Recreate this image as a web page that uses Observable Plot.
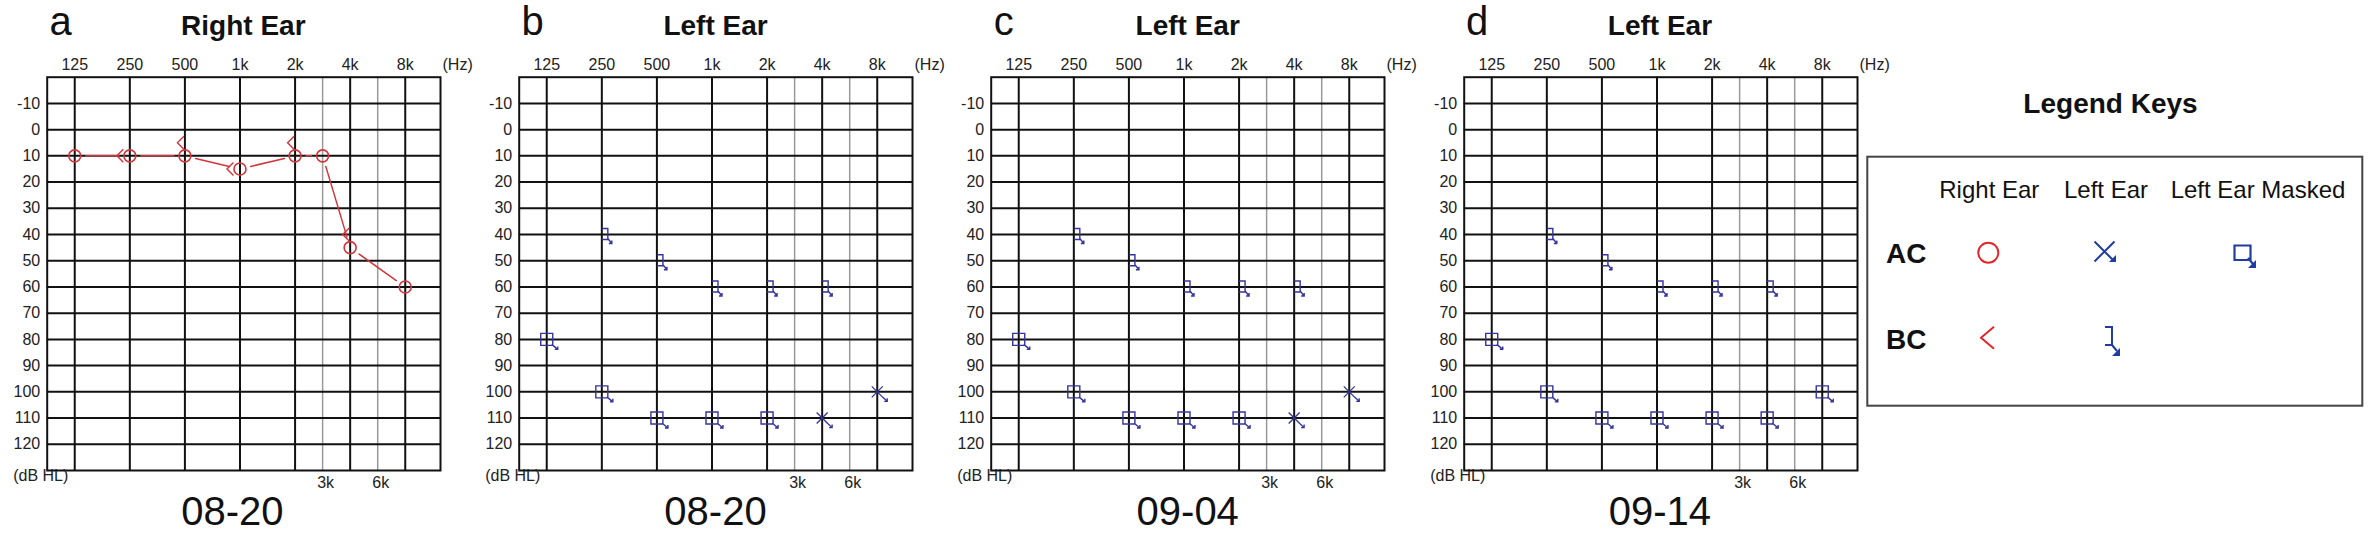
<!DOCTYPE html>
<html><head><meta charset="utf-8">
<script src="https://cdn.jsdelivr.net/npm/d3@7"></script>
<script src="https://cdn.jsdelivr.net/npm/@observablehq/plot@0.6"></script>
<style>
body{margin:0;background:#fff;font-family:"Liberation Sans",Arial,sans-serif;color:#111;}
#root{position:relative;width:2370px;height:534px;overflow:hidden;background:#fff;}
.panel{position:absolute;top:0;width:472px;height:534px;}
.letter{position:absolute;left:49.4px;top:1.1px;font-size:40px;line-height:40px;white-space:nowrap;}
.title{position:absolute;left:46.7px;width:393.3px;top:12.3px;font-size:28px;line-height:28px;font-weight:bold;text-align:center;white-space:nowrap;}
.date{position:absolute;left:46.7px;width:393.3px;top:491.1px;font-size:40px;line-height:40px;text-align:center;white-space:nowrap;}
.plot{position:absolute;left:0;top:48px;}
svg{overflow:visible;}
</style></head><body><div id="root"></div>
<script>
// ---------- axis definitions ----------
const freqLabels = ["125","250","500","1k","2k","4k","8k"];
const interOctaveLabels = ["3k","6k"];
const dbTicks = [-10,0,10,20,30,40,50,60,70,80,90,100,110,120];

// ---------- panel a : Right Ear 08-20 ----------
const rightACFreq = ["125","250","500","1k","2k","3k","4k","8k"];
const rightAC     = [10, 10, 10, 15, 10, 10, 45, 60];
const rightBCFreq = ["250","500","1k","2k","4k"];
const rightBC     = [10, 5, 15, 5, 40];

// ---------- panel b : Left Ear 08-20 ----------
const b_maskedACFreq = ["125","250","500","1k","2k"];
const b_maskedAC     = [80, 100, 110, 110, 110];
const b_ACFreq       = ["4k","8k"];
const b_AC           = [110, 100];
const b_maskedBCFreq = ["250","500","1k","2k","4k"];
const b_maskedBC     = [40, 50, 60, 60, 60];

// ---------- panel c : Left Ear 09-04 ----------
const c_maskedACFreq = ["125","250","500","1k","2k"];
const c_maskedAC     = [80, 100, 110, 110, 110];
const c_ACFreq       = ["4k","8k"];
const c_AC           = [110, 100];
const c_maskedBCFreq = ["250","500","1k","2k","4k"];
const c_maskedBC     = [40, 50, 60, 60, 60];

// ---------- panel d : Left Ear 09-14 ----------
const d_maskedACFreq = ["125","250","500","1k","2k","4k","8k"];
const d_maskedAC     = [80, 100, 110, 110, 110, 110, 100];
const d_ACFreq       = [];
const d_AC           = [];
const d_maskedBCFreq = ["250","500","1k","2k","4k"];
const d_maskedBC     = [40, 50, 60, 60, 60];

const panelLetters = ["a","b","c","d"];
const panelTitles  = ["Right Ear","Left Ear","Left Ear","Left Ear"];
const panelDates   = ["08-20","08-20","09-04","09-14"];

// audiogram octave layout: octave frequencies at integer steps, inter-octave lines halfway
const octavePos = new Map([...freqLabels.map((f, i) => [f, i]), ...interOctaveLabels.map((f, i) => [f, 4.5 + i])]);
const labelOf = new Map([...octavePos].map(([k, v]) => [v, k]));
const pos = f => octavePos.get(f);

const RED = "#d0363c", NAVY = "#34349a", GRID = "#111";

// ---------- custom audiogram symbols (d3-symbol compatible) ----------
function arrowHead(ctx, x0, y0, x1, y1, h) {
  ctx.moveTo(x0, y0); ctx.lineTo(x1, y1);
  ctx.moveTo(x1 - h, y1); ctx.lineTo(x1, y1); ctx.lineTo(x1, y1 - h);
}
const symRightBC = {draw(ctx, size) { const r = Math.sqrt(size / Math.PI);
  ctx.moveTo(0, -r); ctx.lineTo(-r, 0); ctx.lineTo(0, r); }};
const symMaskedAC = {draw(ctx, size) { const r = Math.sqrt(size / Math.PI);
  ctx.moveTo(-r, -r); ctx.lineTo(r, -r); ctx.lineTo(r, r); ctx.lineTo(-r, r); ctx.closePath();
  arrowHead(ctx, r - 1, r - 1, r + 5, r + 4, 3); }};
const symLeftAC = {draw(ctx, size) { const r = Math.sqrt(size / Math.PI);
  ctx.moveTo(-r, -r); ctx.lineTo(r, r); ctx.moveTo(r, -r); ctx.lineTo(-r, r);
  arrowHead(ctx, r, r, r + 4.5, r + 4, 3); }};
const symMaskedBC = {draw(ctx, size) { const r = Math.sqrt(size / Math.PI);
  ctx.moveTo(0, -r); ctx.lineTo(r, -r); ctx.lineTo(r, r - 1); ctx.lineTo(0, r - 1);
  arrowHead(ctx, r, r - 2, r + 4, r + 3, 3); }};

function pts(freqs, vals) { return freqs.map((f, i) => ({x: pos(f), y: vals[i], f})); }

function baseMarks() {
  return [
    Plot.ruleX(interOctaveLabels, {x: pos, stroke: "#9a9a9a", strokeWidth: 1.5}),
    Plot.ruleX(freqLabels, {x: pos, stroke: GRID, strokeWidth: 2}),
    Plot.ruleY(dbTicks, {y: d => d, stroke: GRID, strokeWidth: 2}),
    Plot.frame({stroke: GRID, strokeWidth: 2}),
    Plot.axisY({ticks: dbTicks, anchor: "left", label: null, tickSize: 0, tickPadding: 7, tickFormat: d => String(d), fontSize: 16}),
    Plot.axisX({ticks: freqLabels.map(pos), anchor: "top", label: null, tickSize: 0, tickPadding: 7, tickFormat: v => labelOf.get(v), fontSize: 16}),
    Plot.axisX({ticks: interOctaveLabels.map(pos), anchor: "bottom", label: null, tickSize: 0, tickPadding: 6, dx: 3, tickFormat: v => labelOf.get(v), fontSize: 16}),
    Plot.text(["(Hz)"], {text: d => d, frameAnchor: "top-right", textAnchor: "start", lineAnchor: "bottom", dx: 2, dy: -7, fontSize: 16}),
    Plot.text(["(dB HL)"], {text: d => d, frameAnchor: "bottom-left", textAnchor: "start", dx: -34, dy: 10, fontSize: 16})
  ];
}

function rightMarks() {
  const ac = pts(rightACFreq, rightAC);
  const segs = ac.slice(1).map((p, i) => ({x1: ac[i].x, y1: ac[i].y, x2: p.x, y2: p.y}));
  const bc = pts(rightBCFreq, rightBC).map(d => ({...d, overlap: rightAC[rightACFreq.indexOf(d.f)] === d.y}));
  return [
    Plot.arrow(segs, {x1: "x1", y1: "y1", x2: "x2", y2: "y2", headLength: 0, insetStart: 11, insetEnd: 11, stroke: RED, strokeWidth: 1.5}),
    Plot.dot(ac, {x: "x", y: "y", r: 6, stroke: RED, strokeWidth: 1.6, fill: "none"}),
    Plot.dot(bc.filter(d => !d.overlap), {x: "x", y: "y", symbol: symRightBC, r: 6.5, dx: -1, stroke: RED, strokeWidth: 1.4, fill: "none"}),
    Plot.dot(bc.filter(d => d.overlap), {x: "x", y: "y", symbol: symRightBC, r: 6.5, dx: -6.5, stroke: RED, strokeWidth: 1.4, fill: "none"})
  ];
}

function leftMarks(mACf, mAC, ACf, AC, mBCf, mBC) {
  return [
    Plot.dot(pts(mACf, mAC), {x: "x", y: "y", symbol: symMaskedAC, r: 6, stroke: NAVY, strokeWidth: 1.4, fill: "none"}),
    Plot.dot(pts(ACf, AC), {x: "x", y: "y", symbol: symLeftAC, r: 5.5, stroke: NAVY, strokeWidth: 1.3, fill: "none"}),
    Plot.dot(pts(mBCf, mBC), {x: "x", y: "y", symbol: symMaskedBC, r: 6, stroke: NAVY, strokeWidth: 1.4, fill: "none"})
  ];
}

const panelMarks = [
  rightMarks(),
  leftMarks(b_maskedACFreq, b_maskedAC, b_ACFreq, b_AC, b_maskedBCFreq, b_maskedBC),
  leftMarks(c_maskedACFreq, c_maskedAC, c_ACFreq, c_AC, c_maskedBCFreq, c_maskedBC),
  leftMarks(d_maskedACFreq, d_maskedAC, d_ACFreq, d_AC, d_maskedBCFreq, d_maskedBC)
];
const dateShift = [-11, 0, 0, 0];

const root = document.getElementById("root");
panelMarks.forEach((marks, i) => {
  const div = document.createElement("div");
  div.className = "panel";
  div.style.left = (i * 472.2) + "px";
  root.appendChild(div);
  const letter = document.createElement("div"); letter.className = "letter"; letter.textContent = panelLetters[i]; div.appendChild(letter);
  const title = document.createElement("div"); title.className = "title"; title.textContent = panelTitles[i]; div.appendChild(title);
  const chart = Plot.plot({
    width: 472, height: 444,
    marginLeft: 46.7, marginRight: 32, marginTop: 28.7, marginBottom: 22,
    x: {type: "linear", domain: [-0.5, 6.64], axis: null},
    y: {type: "linear", domain: [-20, 130], reverse: true, axis: null},
    style: {fontFamily: '"Liberation Sans", Arial, sans-serif', fontSize: "16px", color: "#222", background: "transparent", overflow: "visible"},
    marks: [...baseMarks(), ...marks]
  });
  chart.classList.add("plot");
  chart.style.position = "absolute"; chart.style.left = "0px"; chart.style.top = "48px";
  div.appendChild(chart);
  const date = document.createElement("div"); date.className = "date"; date.textContent = panelDates[i];
  date.style.left = (46.7 + dateShift[i]) + "px"; div.appendChild(date);
});

// ---------- Legend ----------
const legendCols = ["Right Ear", "Left Ear", "Left Ear Masked"];
const legendRows = ["AC", "BC"];
const BLUE = "#1f3c9e", LRED = "#e3262a";
const leg = d3.select(root).append("svg").attr("width", 510).attr("height", 340)
  .style("position", "absolute").style("left", "1860px").style("top", "80px")
  .style("font-family", '"Liberation Sans", Arial, sans-serif');
leg.append("text").attr("x", 250.5).attr("y", 33.3).attr("text-anchor", "middle")
  .attr("font-size", 28).attr("font-weight", "bold").attr("fill", "#111").text("Legend Keys");
leg.append("rect").attr("x", 7.3).attr("y", 76.7).attr("width", 495).attr("height", 249)
  .attr("fill", "none").attr("stroke", "#444").attr("stroke-width", 2);
const colX = [129.3, 246, 398];
legendCols.forEach((c, i) => leg.append("text").attr("x", colX[i]).attr("y", 118.3).attr("text-anchor", "middle")
  .attr("font-size", 24).attr("fill", "#111").text(c));
const rowY = [182.7, 269.3];
legendRows.forEach((r, i) => leg.append("text").attr("x", 26).attr("y", rowY[i])
  .attr("font-size", 28).attr("font-weight", "bold").attr("fill", "#111").text(r));
// AC right: circle
leg.append("circle").attr("cx", 128.3).attr("cy", 172.7).attr("r", 10).attr("fill", "none").attr("stroke", LRED).attr("stroke-width", 2);
// BC right: <
leg.append("path").attr("d", "M134,246.7 L121,257.7 L134,268.7").attr("fill", "none").attr("stroke", LRED).attr("stroke-width", 2);
// AC left: X with arrow
leg.append("path").attr("d", "M234.5,161.5 L253,180 M254.5,161.5 L234.5,181.5").attr("fill", "none").attr("stroke", BLUE).attr("stroke-width", 2);
leg.append("path").attr("d", "M256,182 L249,182 L256,175 Z").attr("fill", BLUE);
// AC left masked: square with arrow
leg.append("path").attr("d", "M374.5,165.5 H390.5 V180 H374.5 Z M388,178 L393,184").attr("fill", "none").attr("stroke", BLUE).attr("stroke-width", 2.2);
leg.append("path").attr("d", "M396,188 L388,188 L396,180 Z").attr("fill", BLUE);
// BC left: ] with arrow
leg.append("path").attr("d", "M245,247 H252 V265 H245 M252,265 L257,271").attr("fill", "none").attr("stroke", BLUE).attr("stroke-width", 2);
leg.append("path").attr("d", "M260,276 L252,276 L260,268 Z").attr("fill", BLUE);
</script></body></html>
